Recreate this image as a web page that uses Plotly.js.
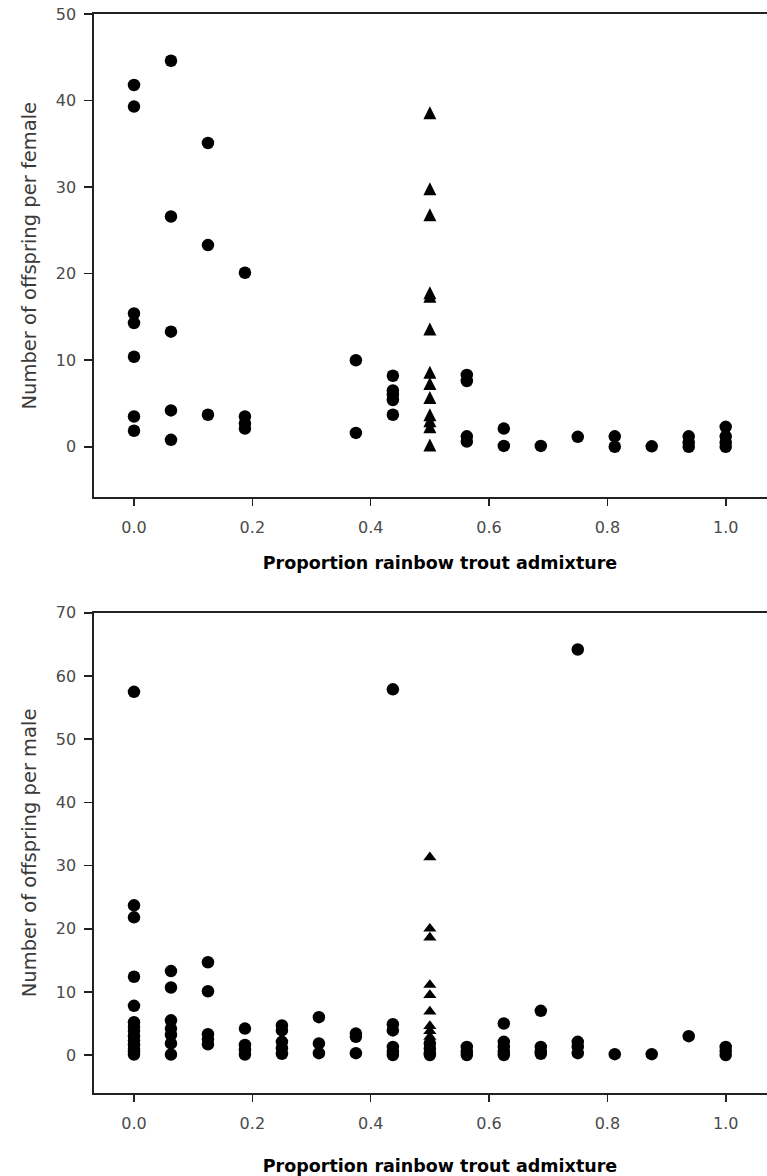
<!DOCTYPE html>
<html>
<head>
<meta charset="utf-8">
<script src="https://cdn.plot.ly/plotly-3.0.1.min.js"></script>
<style>
  html, body { margin: 0; padding: 0; background: #fff; overflow: hidden; }
  #chart { width: 786px; height: 1176px; }
</style>
</head>
<body>
<div id="chart"></div>
<script>
// ---- Data: female panel (top) ----
const femaleCircleX = [
  0, 0, 0, 0, 0, 0, 0,
  0.0625, 0.0625, 0.0625, 0.0625, 0.0625,
  0.125, 0.125, 0.125,
  0.1875, 0.1875, 0.1875, 0.1875,
  0.375, 0.375,
  0.4375, 0.4375, 0.4375, 0.4375, 0.4375,
  0.5625, 0.5625, 0.5625, 0.5625,
  0.625, 0.625,
  0.6875,
  0.75,
  0.8125, 0.8125,
  0.875,
  0.9375, 0.9375, 0.9375,
  1.0, 1.0, 1.0, 1.0
];
const femaleCircleY = [
  41.8, 39.3, 15.4, 14.3, 10.4, 3.5, 1.85,
  44.6, 26.6, 13.3, 4.2, 0.8,
  35.1, 23.3, 3.7,
  20.1, 3.5, 2.7, 2.1,
  10.0, 1.6,
  8.2, 6.5, 6.0, 5.4, 3.7,
  8.3, 7.6, 1.2, 0.6,
  2.1, 0.1,
  0.1,
  1.15,
  1.2, 0.0,
  0.05,
  1.2, 0.5, 0.0,
  2.3, 1.2, 0.5, 0.0
];
const femaleTriangleX = [0.5, 0.5, 0.5, 0.5, 0.5, 0.5, 0.5, 0.5, 0.5, 0.5, 0.5, 0.5, 0.5];
const femaleTriangleY = [38.6, 29.8, 26.8, 17.8, 17.4, 13.6, 8.6, 7.3, 5.7, 3.7, 3.0, 2.3, 0.2];

// ---- Data: male panel (bottom) ----
const maleCircleX = [
  0, 0, 0, 0, 0, 0, 0, 0, 0, 0, 0, 0, 0, 0,
  0.0625, 0.0625, 0.0625, 0.0625, 0.0625, 0.0625, 0.0625,
  0.125, 0.125, 0.125, 0.125, 0.125,
  0.1875, 0.1875, 0.1875, 0.1875,
  0.25, 0.25, 0.25, 0.25, 0.25,
  0.3125, 0.3125, 0.3125,
  0.375, 0.375, 0.375,
  0.4375, 0.4375, 0.4375, 0.4375, 0.4375, 0.4375,
  0.5, 0.5, 0.5, 0.5,
  0.5625, 0.5625, 0.5625,
  0.625, 0.625, 0.625, 0.625, 0.625,
  0.6875, 0.6875, 0.6875, 0.6875,
  0.75, 0.75, 0.75, 0.75,
  0.8125,
  0.875,
  0.9375,
  1.0, 1.0, 1.0
];
const maleCircleY = [
  57.5, 23.7, 21.8, 12.4, 7.8, 5.2, 4.5, 3.8, 3.0, 2.3, 1.6, 1.0, 0.5, 0.1,
  13.3, 10.7, 5.5, 4.2, 3.2, 1.85, 0.1,
  14.7, 10.1, 3.3, 2.5, 1.7,
  4.2, 1.6, 0.8, 0.1,
  4.7, 3.9, 2.1, 1.1, 0.2,
  6.0, 1.85, 0.3,
  3.4, 2.9, 0.3,
  57.9, 4.9, 3.9, 1.3, 0.5, 0.0,
  1.85, 1.05, 0.3, 0.0,
  1.3, 0.5, 0.0,
  5.0, 2.1, 1.3, 0.5, 0.0,
  7.0, 1.3, 0.5, 0.2,
  64.2, 2.1, 1.3, 0.3,
  0.15,
  0.15,
  3.0,
  1.3, 0.7, 0.0
];
const maleTriangleX = [0.5, 0.5, 0.5, 0.5, 0.5, 0.5, 0.5, 0.5, 0.5];
const maleTriangleY = [31.3, 20.0, 18.6, 11.1, 9.5, 6.9, 4.6, 3.8, 2.9];

// ---- Axis text ----
const xTitle = 'Proportion rainbow trout admixture';
const yTitleTop = 'Number of offspring per female';
const yTitleBottom = 'Number of offspring per male';
const xTickVals = [0, 0.2, 0.4, 0.6, 0.8, 1.0];
const xTickText = ['0.0', '0.2', '0.4', '0.6', '0.8', '1.0'];
const yTickValsTop = [0, 10, 20, 30, 40, 50];
const yTickValsBottom = [0, 10, 20, 30, 40, 50, 60, 70];

const circleMarker = { symbol: 'circle', size: 12.5, color: '#000', line: { width: 0 } };
const triTopMarker = { symbol: 'arrow-down', angle: 180, standoff: 6.5, size: 13, color: '#000', line: { width: 0 } };
const triBottomMarker = { symbol: 'triangle-up', size: 11.5, color: '#000', line: { width: 0 } };

const traces = [
  { type: 'scatter', mode: 'markers', x: femaleCircleX, y: femaleCircleY, xaxis: 'x', yaxis: 'y', marker: circleMarker, cliponaxis: false },
  { type: 'scatter', mode: 'markers', x: femaleTriangleX, y: femaleTriangleY, xaxis: 'x', yaxis: 'y', marker: triTopMarker, cliponaxis: false },
  { type: 'scatter', mode: 'markers', x: maleCircleX, y: maleCircleY, xaxis: 'x2', yaxis: 'y2', marker: circleMarker, cliponaxis: false },
  { type: 'scatter', mode: 'markers', x: maleTriangleX, y: maleTriangleY, xaxis: 'x2', yaxis: 'y2', marker: triBottomMarker, cliponaxis: false }
];

const tickFont = { family: 'DejaVu Sans, Verdana, sans-serif', size: 16, color: '#4a4a4a' };
const yTitleFont = { family: 'DejaVu Sans, Verdana, sans-serif', size: 19.5, color: '#3a3a3a' };
const xTitleFont = { family: 'DejaVu Sans, Verdana, sans-serif', size: 17.5, color: '#000', weight: 'bold' };
const lineColor = '#222';
const xRange = [-0.0676, 1.1019];

function xAxis(domainAnchor, standoff) {
  return {
    anchor: domainAnchor,
    range: xRange,
    tickmode: 'array', tickvals: xTickVals, ticktext: xTickText,
    ticks: 'outside', ticklen: 7, tickwidth: 1.6, tickcolor: lineColor,
    showline: true, linecolor: lineColor, linewidth: 1.6, mirror: true,
    showgrid: false, zeroline: false,
    tickfont: tickFont, ticklabelstandoff: 8,
    title: { text: xTitle, font: xTitleFont, standoff: standoff }
  };
}
function yAxis(domain, domainAnchor, range, tickvals, title) {
  return {
    domain: domain, anchor: domainAnchor,
    range: range,
    tickmode: 'array', tickvals: tickvals,
    ticks: 'outside', ticklen: 8, tickwidth: 1.6, tickcolor: lineColor,
    showline: true, linecolor: lineColor, linewidth: 1.6,
    showgrid: false, zeroline: false,
    tickfont: tickFont, ticklabelstandoff: 5,
    title: { text: title, font: yTitleFont, standoff: 14 }
  };
}

const layout = {
  width: 786, height: 1176,
  margin: { l: 94, r: 0, t: 14, b: 83.3 },
  paper_bgcolor: '#fff', plot_bgcolor: '#fff',
  showlegend: false,
  xaxis: xAxis('y', 20),
  yaxis: yAxis([0.552, 1], 'x', [-5.85, 50], yTickValsTop, yTitleTop),
  xaxis2: xAxis('y2', 30),
  yaxis2: yAxis([0, 0.445], 'x2', [-6, 70], yTickValsBottom, yTitleBottom)
};

Plotly.newPlot('chart', traces, layout, { displayModeBar: false, staticPlot: true });
</script>
</body>
</html>
